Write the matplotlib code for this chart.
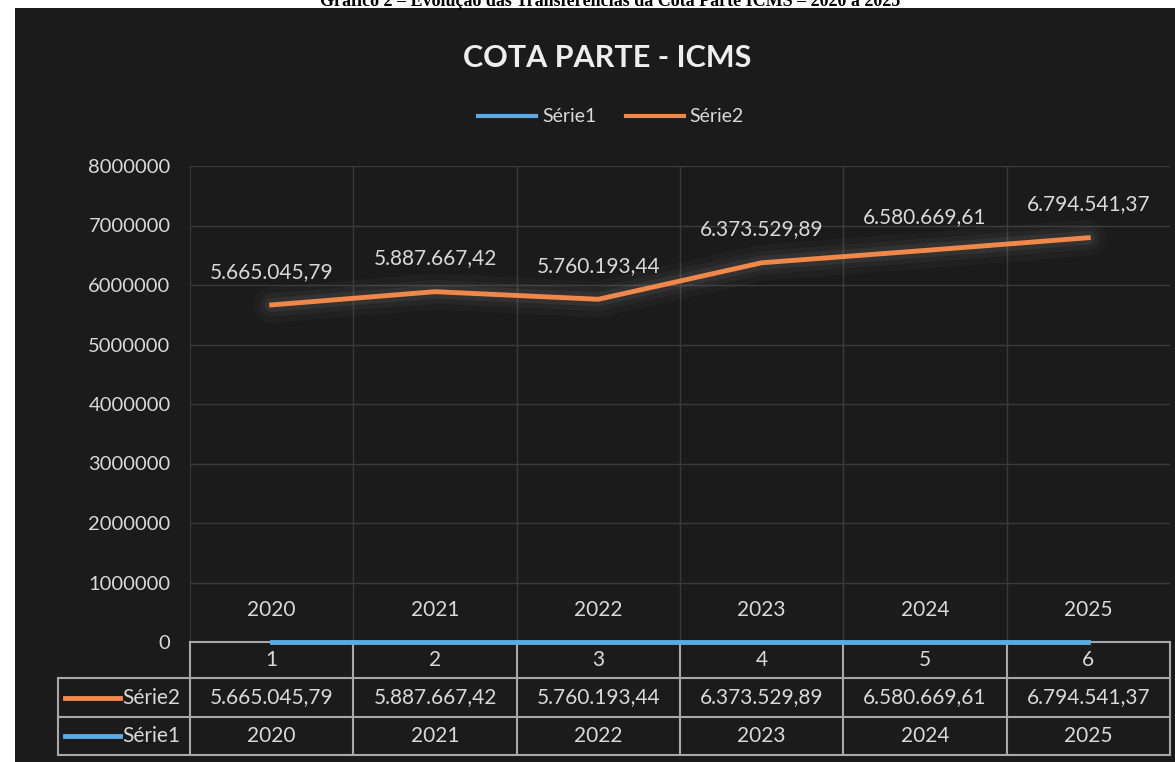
import matplotlib.pyplot as plt
from matplotlib.patches import Rectangle
from matplotlib.lines import Line2D
import matplotlib.transforms as mtransforms

plt.rcParams['font.family'] = ['Lato', 'DejaVu Sans']

# dados
categorias = [1, 2, 3, 4, 5, 6]
serie1 = [2020, 2021, 2022, 2023, 2024, 2025]
serie2 = [5665045.79, 5887667.42, 5760193.44, 6373529.89, 6580669.61, 6794541.37]
serie2_txt = ["5.665.045,79", "5.887.667,42", "5.760.193,44",
              "6.373.529,89", "6.580.669,61", "6.794.541,37"]
yticks = [0, 1000000, 2000000, 3000000, 4000000, 5000000, 6000000, 7000000, 8000000]

FUNDO = '#1b1b1b'
TEXTO = '#d9d9d9'
LARANJA = '#f0884a'
AZUL = '#5aaae6'
GRADE = '#3a3a3a'
BORDA = '#a8a8a8'

fig = plt.figure(figsize=(11.75, 7.62), dpi=100, facecolor='white')

# painel escuro (print do grafico)
fig.patches.append(Rectangle((15 / 1175, 0), 1 - 15 / 1175, 1 - 8 / 762,
                             transform=fig.transFigure, facecolor=FUNDO,
                             edgecolor='none', zorder=-10))

# legenda do documento, cortada no topo (como no print)
fig.text(610 / 1175, 1 - 6 / 762,
         "Gráfico 2 – Evolução das Transferências da Cota Parte ICMS – 2020 a 2025",
         ha='center', va='baseline', fontsize=13, fontweight='bold',
         family='Liberation Serif', color='black')

ax = fig.add_axes([190 / 1175, 1 - 642 / 762, 980 / 1175, 476 / 762])
ax.set_facecolor('none')
ax.set_xlim(0.5, 6.5)
ax.set_ylim(0, 8000000)

# grade
for y in yticks[1:]:
    ax.axhline(y, color=GRADE, lw=1, zorder=1)
for x in [1.5, 2.5, 3.5, 4.5, 5.5]:
    ax.axvline(x, color=GRADE, lw=1, zorder=1)

for s in ['top', 'right', 'bottom']:
    ax.spines[s].set_visible(False)
ax.spines['left'].set_color(GRADE)

ax.set_yticks(yticks)
ax.set_yticklabels([str(v) for v in yticks])
ax.set_xticks([])
ax.tick_params(axis='y', length=0, pad=14, labelsize=14.5, labelcolor=TEXTO)

# Série2 com brilho
for lw, a in [(26, 0.035), (17, 0.05), (10, 0.08)]:
    ax.plot(categorias, serie2, color='#bbbbbb', lw=lw, alpha=a,
            solid_capstyle='round', zorder=2)
ax.plot(categorias, serie2, color=LARANJA, lw=3.5, zorder=3, label='Série2')
ax.plot(categorias, serie1, color=AZUL, lw=3.5, zorder=4, label='Série1',
        clip_on=False)

for x, y, t in zip(categorias, serie2, serie2_txt):
    ax.annotate(t, (x, y), xytext=(0, 24), textcoords='offset points',
                ha='center', va='center', fontsize=15, color=TEXTO, zorder=5)
for x, y in zip(categorias, serie1):
    ax.annotate(str(y), (x, y), xytext=(0, 23), textcoords='offset points',
                ha='center', va='center', fontsize=15, color=TEXTO, zorder=5)

# titulo e legenda
fig.text(607 / 1175, 1 - 58 / 762, "COTA PARTE - ICMS", ha='center', va='center',
         fontsize=22, fontweight='bold', color='#eeeeee')
handles = [Line2D([0], [0], color=AZUL, lw=3), Line2D([0], [0], color=LARANJA, lw=3)]
fig.legend(handles, ['Série1', 'Série2'], loc='center', ncol=2,
           bbox_to_anchor=(611 / 1175, 1 - 117 / 762), frameon=False, fontsize=14,
           labelcolor=TEXTO, handlelength=3.0, handletextpad=0.3,
           columnspacing=1.5)

# tabela de dados
trans = mtransforms.blended_transform_factory(ax.transData, ax.transAxes)
linhas_y = [0, -36 / 476, -75 / 476, -113 / 476]
x_cab = (58 - 190) / 980

ax.plot([0.5, 6.5], [0, 0], transform=trans, color=BORDA, lw=1.5,
        clip_on=False, zorder=3)
for y in linhas_y[1:]:
    ax.plot([x_cab, 1], [y, y], transform=ax.transAxes, color=BORDA, lw=1.5,
            clip_on=False)
for x in [0.5, 1.5, 2.5, 3.5, 4.5, 5.5, 6.5]:
    ax.plot([x, x], [0, linhas_y[-1]], transform=trans, color=BORDA, lw=1.5,
            clip_on=False)
ax.plot([x_cab, x_cab], [linhas_y[1], linhas_y[-1]], transform=ax.transAxes,
        color=BORDA, lw=1.5, clip_on=False)

def meio(i):
    return (linhas_y[i] + linhas_y[i + 1]) / 2

for x in categorias:
    ax.text(x, meio(0), str(x), transform=trans, ha='center', va='center',
            fontsize=15, color=TEXTO)
for x, t in zip(categorias, serie2_txt):
    ax.text(x, meio(1), t, transform=trans, ha='center', va='center',
            fontsize=15, color=TEXTO)
for x, v in zip(categorias, serie1):
    ax.text(x, meio(2), str(v), transform=trans, ha='center', va='center',
            fontsize=15, color=TEXTO)

for i, (nome, cor) in enumerate([('Série2', LARANJA), ('Série1', AZUL)], start=1):
    ax.plot([(65 - 190) / 980, (120 - 190) / 980], [meio(i), meio(i)],
            transform=ax.transAxes, color=cor, lw=3.5, clip_on=False)
    ax.text((122 - 190) / 980, meio(i), nome, transform=ax.transAxes,
            ha='left', va='center', fontsize=15, color=TEXTO)

fig.savefig('out.png', dpi=100, facecolor=fig.get_facecolor())
